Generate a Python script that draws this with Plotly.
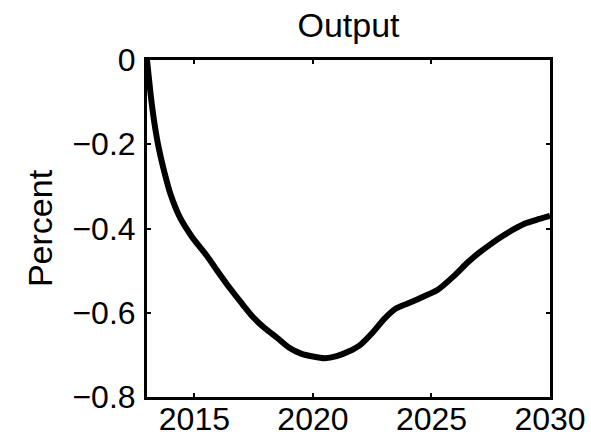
import plotly.graph_objects as go

years = [2013.0, 2013.15, 2013.3, 2013.5, 2013.75, 2014.0, 2014.4, 2014.9, 2015.5, 2016.0, 2016.5, 2017.0,
         2017.5, 2018.0, 2018.5, 2019.0, 2019.5, 2020.0, 2020.5, 2021.0, 2021.5, 2022.0, 2022.5,
         2023.0, 2023.5, 2024.0, 2024.65, 2025.25, 2026.0, 2026.5, 2027.0, 2027.5, 2028.0,
         2028.5, 2029.0, 2029.5, 2030.0]
output = [0.0, -0.08, -0.145, -0.21, -0.27, -0.32, -0.375, -0.42, -0.463, -0.503, -0.542, -0.578,
          -0.612, -0.638, -0.66, -0.683, -0.697, -0.704, -0.708, -0.703, -0.692, -0.676, -0.648,
          -0.615, -0.59, -0.578, -0.562, -0.546, -0.51, -0.482, -0.458, -0.437, -0.418,
          -0.401, -0.387, -0.378, -0.37]

x_ticks = [2015, 2020, 2025, 2030]
y_ticks = [0, -0.2, -0.4, -0.6, -0.8]
y_tick_labels = ["0", "\u22120.2", "\u22120.4", "\u22120.6", "\u22120.8"]

fig = go.Figure()
fig.add_trace(go.Scatter(x=years, y=output, mode="lines",
                         line=dict(color="black", width=6, shape="spline", smoothing=0.6),
                         showlegend=False))

font_family = "Liberation Sans, Arial, sans-serif"
fsize = 32
fig.update_layout(
    width=591, height=440,
    margin=dict(l=147, r=41, t=60, b=43),
    paper_bgcolor="white", plot_bgcolor="white",
    title=dict(text="Output", xref="paper", x=0.5, xanchor="center", y=1 - 25 / 440, yanchor="middle",
               font=dict(family=font_family, size=34, color="black")),
    font=dict(family=font_family, color="black"),
)
fig.update_xaxes(range=[2013, 2030], tickvals=x_ticks, ticktext=[str(t) for t in x_ticks],
                 showgrid=False, zeroline=False, showline=True, linecolor="black", linewidth=3,
                 mirror="ticks", ticks="inside", ticklen=4, tickwidth=2, tickcolor="black",
                 ticklabelstandoff=-8, automargin=False,
                 tickfont=dict(size=fsize, family=font_family, color="black"))
fig.update_yaxes(range=[-0.8, 0], tickvals=y_ticks, ticktext=y_tick_labels,
                 showgrid=False, zeroline=False, showline=True, linecolor="black", linewidth=3,
                 mirror="ticks", ticks="inside", ticklen=4, tickwidth=2, tickcolor="black",
                 ticklabelstandoff=2, automargin=False,
                 tickfont=dict(size=fsize, family=font_family, color="black"),
                 title=dict(text="Percent", font=dict(size=34, family=font_family, color="black"),
                            standoff=10))

fig.write_html("out.html")
